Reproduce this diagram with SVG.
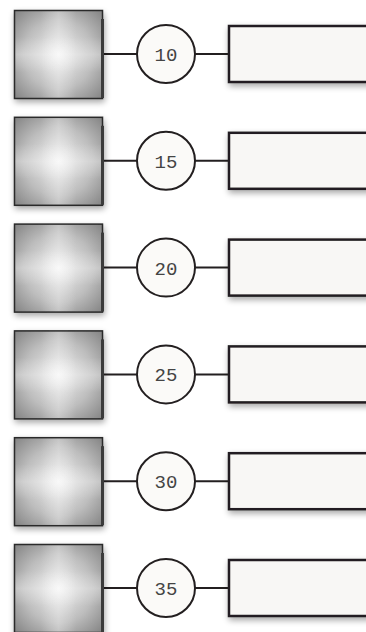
<svg xmlns="http://www.w3.org/2000/svg" width="366" height="632" viewBox="0 0 366 632">
<defs>
<radialGradient id="g" cx="0.5" cy="0.5" r="0.72">
<stop offset="0" stop-color="#f2f2f2"/>
<stop offset="0.55" stop-color="#bdbdbd"/>
<stop offset="1" stop-color="#808080"/>
</radialGradient>
<linearGradient id="gh" x1="0" y1="0" x2="1" y2="0">
<stop offset="0.3" stop-color="#fff" stop-opacity="0"/>
<stop offset="0.5" stop-color="#fff" stop-opacity="0.3"/>
<stop offset="0.7" stop-color="#fff" stop-opacity="0"/>
</linearGradient>
<linearGradient id="gv" x1="0" y1="0" x2="0" y2="1">
<stop offset="0.3" stop-color="#fff" stop-opacity="0"/>
<stop offset="0.5" stop-color="#fff" stop-opacity="0.3"/>
<stop offset="0.7" stop-color="#fff" stop-opacity="0"/>
</linearGradient>
<filter id="sh" x="-20%" y="-20%" width="140%" height="150%">
<feGaussianBlur in="SourceAlpha" stdDeviation="3"/>
<feOffset dx="1" dy="3" result="b"/>
<feComponentTransfer><feFuncA type="linear" slope="0.35"/></feComponentTransfer>
<feMerge><feMergeNode/><feMergeNode in="SourceGraphic"/></feMerge>
</filter>
<g id="row">
<line class="c" x1="104" y1="44" x2="228" y2="44"/>
<g filter="url(#sh)">
<rect x="14.5" y="0.5" width="88" height="88" fill="url(#g)"/>
<rect x="14.5" y="0.5" width="88" height="88" fill="url(#gh)"/>
<rect x="14.5" y="0.5" width="88" height="88" fill="url(#gv)" stroke="#2a2a2a" stroke-width="1.5"/>
<rect x="101" y="9" width="3" height="79" fill="#3a3a3a"/>
</g>
<rect class="box" x="229" y="16" width="150" height="56" filter="url(#sh)"/>
<circle class="n" cx="166" cy="44" r="29"/>
</g>
</defs>
<style>
.c{stroke:#231f20;stroke-width:2}
.box{fill:#f8f7f5;stroke:#231f20;stroke-width:2.5}
.n{fill:#fbfaf8;stroke:#231f20;stroke-width:2}
.t{font-family:"Liberation Mono","DejaVu Sans Mono",monospace;font-size:19px;fill:#444;text-anchor:middle}
</style>
<g id="connectors"></g>
<g id="row10" transform="translate(0,10)"><use href="#row"/><text class="t" x="166" y="51">10</text></g>
<g id="row15" transform="translate(0,116.8)"><use href="#row"/><text class="t" x="166" y="51">15</text></g>
<g id="row20" transform="translate(0,223.6)"><use href="#row"/><text class="t" x="166" y="51">20</text></g>
<g id="row25" transform="translate(0,330.4)"><use href="#row"/><text class="t" x="166" y="51">25</text></g>
<g id="row30" transform="translate(0,437.2)"><use href="#row"/><text class="t" x="166" y="51">30</text></g>
<g id="row35" transform="translate(0,544)"><use href="#row"/><text class="t" x="166" y="51">35</text></g>
</svg>
